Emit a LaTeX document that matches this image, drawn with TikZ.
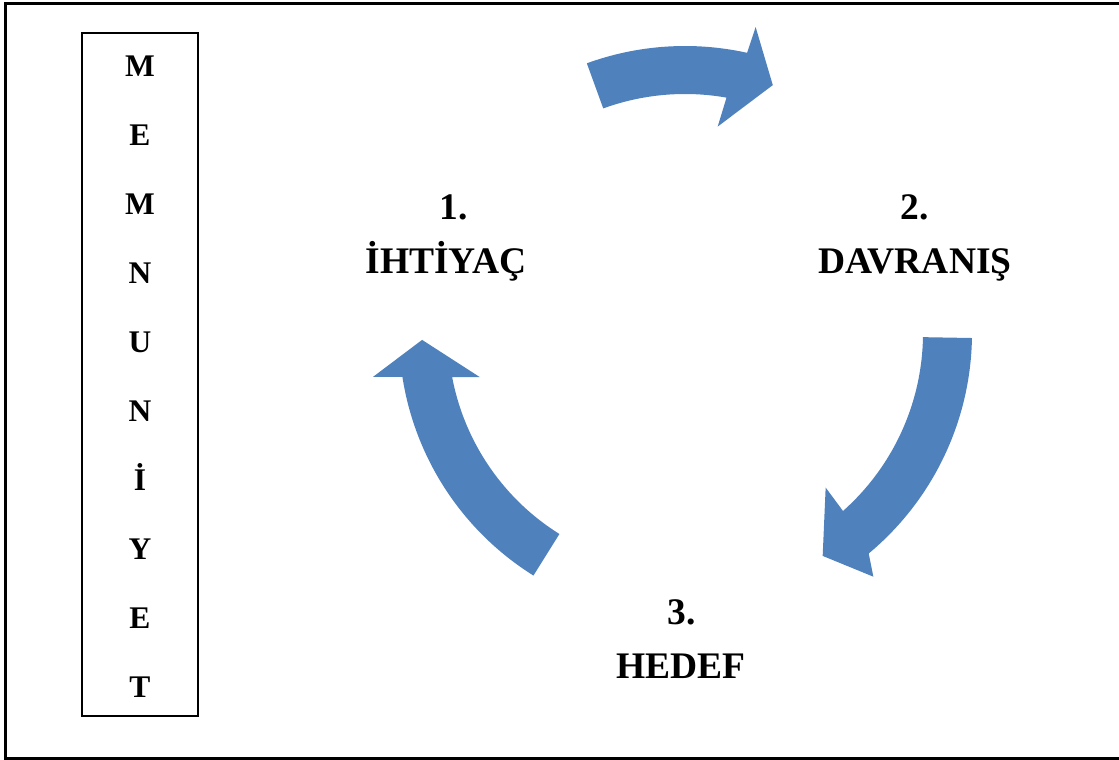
\documentclass[tikz,border=0pt]{standalone}
\usepackage{fontspec}
\setmainfont{Liberation Serif}
\definecolor{cycleblue}{RGB}{79,129,189}
\tikzset{
  frameline/.style={line width=3pt},
  boxline/.style={draw, line width=2.2pt, minimum width=116pt, minimum height=683pt, inner sep=0pt},
  boxletter/.style={font=\fontsize{31.5}{31.5}\selectfont\bfseries, inner sep=0pt, anchor=base},
  steptext/.style={font=\fontsize{37.5}{37.5}\selectfont\bfseries, inner sep=0pt, anchor=base},
  cyclearrow/.style={fill=cycleblue, draw=none}
}
\begin{document}
\begin{tikzpicture}[x=1pt,y=-1pt]
\useasboundingbox (0,0) rectangle (1119,760);
% outer frame
\coordinate (ftr) at (1121,4);
\coordinate (ftl) at (5,4);
\coordinate (fbl) at (5,758);
\coordinate (fbr) at (1121,758);
\draw[frameline] (ftr) -- (ftl) -- (fbl) -- (fbr);

% vertical word box
\node[boxline] (box) at (140,374.5) {};
\foreach \ch [count=\i from 0] in {M,E,M,N,U,N,İ,Y,E,T}
  \node[boxletter] (ch\i) at (140,{76.5+69*\i}) {\ch};

% three curved arrows around the cycle centre
\coordinate (c) at (685,333);
\begin{scope}[shift={(c)}]
  % 1 -> 2
  \fill[cyclearrow] (-110:287) arc[start angle=-110, end angle=-77.5, radius=287]
    -- (-77:314) -- (-70.5:263) -- (-81:209) -- (-80:239)
    arc[start angle=-80, end angle=-110, radius=239] -- cycle;
  % 2 -> 3
  \fill[cyclearrow] (1:287) arc[start angle=1, end angle=50.2, radius=287]
    -- (52.3:308) -- (58.3:262) -- (47.7:209) -- (48.4:238)
    arc[start angle=48.4, end angle=1, radius=238] -- cycle;
  % 3 -> 1
  \fill[cyclearrow] (122:286) arc[start angle=122, end angle=171.2, radius=286]
    -- (172:315) -- (178.5:263) -- (167.9:210) -- (169.3:237)
    arc[start angle=169.3, end angle=122, radius=237] -- cycle;
\end{scope}

% step labels
\node[steptext] (n1) at (454,219) {1.};
\node[steptext] (t1) at (446,273) {İHTİYAÇ};
\node[steptext] (n2) at (915,219) {2.};
\node[steptext] (t2) at (915,273) {DAVRANIŞ};
\node[steptext] (n3) at (682,624) {3.};
\node[steptext] (t3) at (681,678) {HEDEF};
\end{tikzpicture}
\end{document}
